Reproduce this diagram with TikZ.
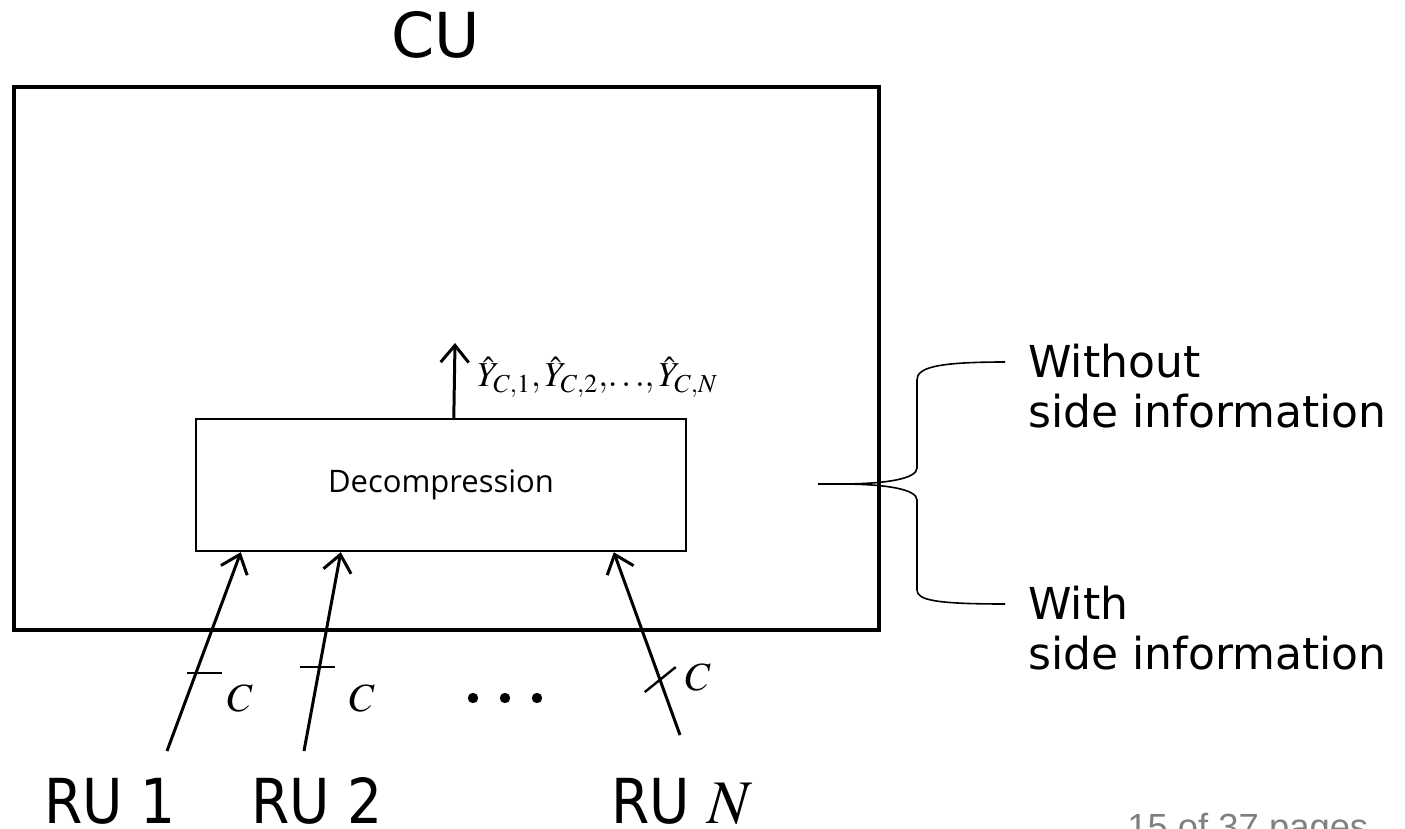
\documentclass[tikz,border=0pt]{standalone}
\usepackage{mathptmx}
\usepackage[no-math]{fontspec}
\setmainfont{DejaVu Sans}
\newfontfamily\decfont{Open Sans}
\newfontfamily\pagefont{Liberation Sans}
\newfontfamily\rufont[FakeStretch=0.89]{DejaVu Sans}
\usetikzlibrary{calc,positioning,arrows.meta}
\definecolor{PageGray}{HTML}{808080}
\tikzset{
  cuBox/.style={
    draw,
    line width=2.2pt,
    minimum width=432.5pt,
    minimum height=271.5pt,
    inner sep=0pt
  },
  decBox/.style={
    draw,
    line width=1.2pt,
    minimum width=245pt,
    minimum height=66pt,
    font=\decfont\fontsize{15.5pt}{18pt}\selectfont
  },
  bigLabel/.style={
    inner sep=0pt,
    font=\fontsize{31pt}{36pt}\selectfont
  },
  ruLabel/.style={
    inner sep=0pt,
    font=\rufont\fontsize{31pt}{36pt}\selectfont
  },
  sideLabel/.style={
    inner sep=0pt,
    align=left,
    font=\fontsize{22pt}{25pt}\selectfont
  },
  mathLabel/.style={
    inner sep=0pt,
    font=\fontsize{20pt}{24pt}\selectfont
  },
  outLabel/.style={
    inner sep=0pt,
    font=\fontsize{17.5pt}{21pt}\selectfont
  },
  pageLabel/.style={
    inner sep=0pt,
    text=PageGray,
    font=\pagefont\fontsize{18.2pt}{21pt}\selectfont
  },
  inArrow/.style={
    line width=1.5pt,
    -{Straight Barb[length=8.5pt,width=14pt]}
  },
  tickMark/.style={
    line width=1.2pt
  },
  braceLine/.style={
    line width=0.8pt
  }
}

\begin{document}
\begin{tikzpicture}[x=0.5pt, y=-0.5pt]
  \useasboundingbox (0,0) rectangle (1405,829);

  % central unit and decoder
  \node (cu) [cuBox] at (446.5,358.5) {};
  \node (culabel) [bigLabel, anchor=base] at (436,58) {CU};
  \node (dec) [decBox] at (441,485) {Decompression};

  % decoder output
  \coordinate (out) at (455,343);
  \draw [inArrow] ($(dec.north west)+(259,0)$) -- (out);
  \node (yhat) [outLabel, anchor=west] at (477,377)
    {$\hat{Y}_{C,1},\hat{Y}_{C,2},\!\ldots\!,\hat{Y}_{C,N}$};

  % radio units
  \node (ru1) [ruLabel, anchor=base] at (110,823) {RU 1};
  \node (ru2) [ruLabel, anchor=base] at (317,823) {RU 2};
  \node (run) [ruLabel, anchor=base] at (682,823) {RU $N$};

  \coordinate (ru1top) at (167,751);
  \coordinate (ru2top) at (304,751);
  \coordinate (runtop) at (680,735);

  \draw [inArrow] (ru1top) -- coordinate[pos=0.393] (t1) ($(dec.south west)+(46,0)$);
  \draw [inArrow] (ru2top) -- coordinate[pos=0.423] (t2) ($(dec.south west)+(146,0)$);
  \draw [inArrow] (runtop) -- coordinate[pos=0.306] (tn) ($(dec.south west)+(419,0)$);

  % rate ticks
  \draw [tickMark] ($(t1)+(-9,0)$) -- ($(t1)+(26,0)$);
  \draw [tickMark] ($(t2)+(-20,0)$) -- ($(t2)+(15,0)$);
  \draw [tickMark] ($(tn)+(-15,13)$) -- ($(tn)+(16,-12)$);

  \node (c1) [mathLabel] at (240,698) {$C$};
  \node (c2) [mathLabel] at (362,698) {$C$};
  \node (cn) [mathLabel] at (698,677) {$C$};

  \foreach \dx in {473,505,537}
    \fill (\dx,698) circle (2.6pt);

  % brace to the two cases
  \coordinate (tip) at (818,484);
  \draw [braceLine] (tip) -- (840,484)
    .. controls (885,484) and (917,479) .. (917,468) -- (917,380)
    .. controls (917,368) and (935,362) .. (1005,362);
  \draw [braceLine] (840,484)
    .. controls (885,484) and (917,489) .. (917,500) -- (917,590)
    .. controls (917,600) and (935,604) .. (1005,604);

  \node (without) [sideLabel, anchor=north west] at (1028,344) {Without\\side information};
  \node (with) [sideLabel, anchor=north west] at (1028,586) {With\\side information};

  % slide footer
  \node (page) [pageLabel, anchor=base west] at (1127,839) {15 of 37 pages};
\end{tikzpicture}
\end{document}
